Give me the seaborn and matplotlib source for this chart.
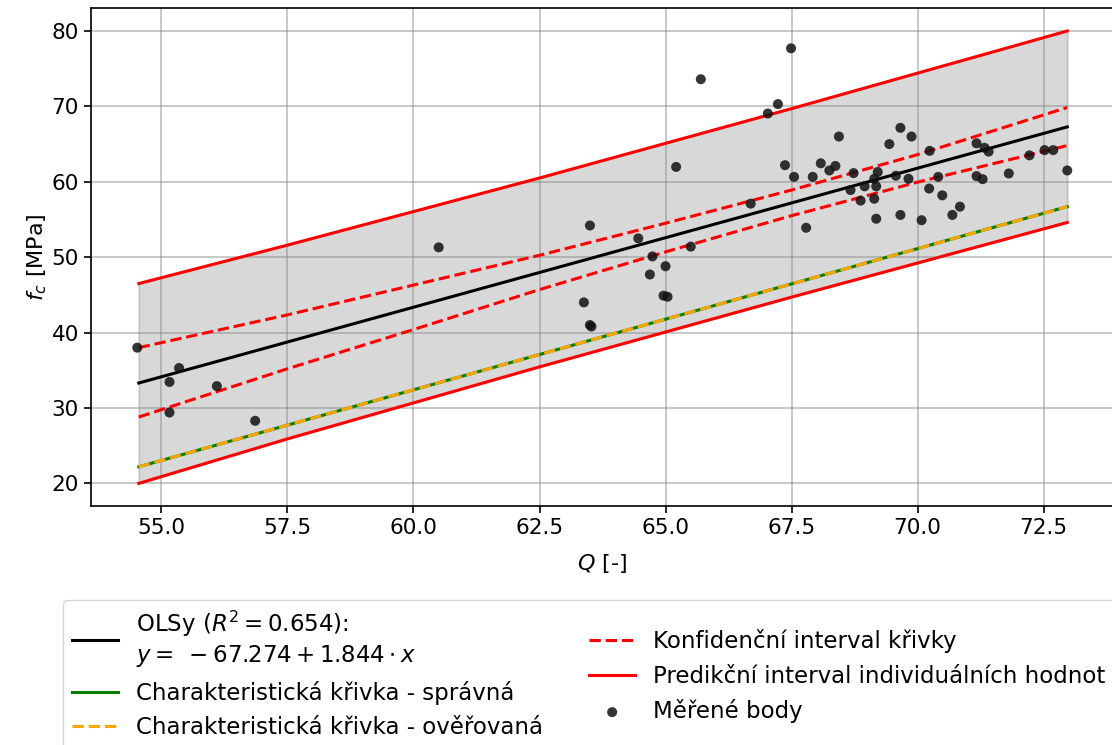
import numpy as np
import pandas as pd
import matplotlib
matplotlib.use("Agg")
import matplotlib.pyplot as plt
import seaborn as sns

# measured points (Q, fc)
q_meas = [54.52, 55.35, 55.16, 56.10, 55.16, 56.86, 60.50,
          65.70, 67.49, 67.23, 67.03, 65.21, 67.37, 67.55, 67.92, 63.50,
          66.69, 67.79, 64.46, 65.50, 64.74, 65.00, 64.69, 64.96, 65.04,
          63.38, 63.50, 63.53,
          68.08, 68.44, 68.25, 68.37, 68.73, 68.67, 68.87, 68.95, 69.14,
          69.18, 69.18, 69.21, 69.14, 69.44, 69.66, 69.88, 69.57, 69.66,
          69.82, 70.08, 70.24, 70.23, 70.41, 70.49, 70.69, 70.84, 71.17,
          71.33, 71.41, 71.17, 71.29, 71.81, 72.22, 72.52, 72.69, 72.97]
fc_meas = [38.0, 35.3, 33.45, 32.9, 29.4, 28.3, 51.3,
           73.6, 77.7, 70.3, 69.05, 61.97, 62.2, 60.65, 60.65, 54.2,
           57.1, 53.9, 52.5, 51.4, 50.1, 48.8, 47.7, 44.9, 44.75,
           44.0, 41.0, 40.8,
           62.45, 66.0, 61.5, 62.1, 61.15, 58.9, 57.5, 59.4, 57.75,
           55.1, 59.4, 61.3, 60.4, 65.0, 67.15, 66.0, 60.8, 55.6,
           60.4, 54.9, 64.1, 59.1, 60.65, 58.2, 55.6, 56.7, 65.1,
           64.5, 64.0, 60.75, 60.35, 61.1, 63.5, 64.2, 64.2, 61.5]

# regression line ends
ols_q = [54.55, 72.97]
ols_fc = [33.31, 67.28]

# confidence band of the curve
conf_q = [54.55, 57.5, 60.0, 62.5, 65.0, 67.5, 70.0, 72.97]
conf_up = [38.0, 42.35, 46.3, 50.25, 54.5, 58.9, 63.6, 69.85]
conf_lo = [28.8, 35.2, 40.4, 45.7, 50.7, 55.5, 59.95, 64.8]

# prediction band
pred_q = [54.55, 57.5, 62.5, 67.5, 72.97]
pred_up = [46.5, 51.6, 60.5, 69.7, 80.0]
pred_lo = [20.0, 25.9, 35.45, 44.7, 54.6]

# characteristic curves
char_q = [54.55, 72.97]
char_fc = [22.2, 56.7]

plt.rcParams['font.size'] = 15.5
plt.rcParams['font.family'] = ['DejaVu Sans']

fig = plt.figure(figsize=(11.12, 7.45), dpi=100)
ax = fig.add_axes([0.0816, 0.3208, 0.92, 0.668])

ax.fill_between(pred_q, pred_lo, pred_up, color='gray', alpha=0.3, lw=1.5)

lw = 2.2
sns.lineplot(x=ols_q, y=ols_fc, ax=ax, color='black', lw=lw,
             label="OLSy ($R^2 = 0.654$):\n$y =\\;-67.274 + 1.844 \\cdot x$")
sns.lineplot(x=char_q, y=char_fc, ax=ax, color='green', lw=lw,
             label="Charakteristická křivka - správná")
sns.lineplot(x=char_q, y=char_fc, ax=ax, color='orange', lw=lw, linestyle='--',
             label="Charakteristická křivka - ověřovaná")
sns.lineplot(x=conf_q, y=conf_up, ax=ax, color='red', lw=lw, linestyle='--',
             label="Konfidenční interval křivky")
sns.lineplot(x=conf_q, y=conf_lo, ax=ax, color='red', lw=lw, linestyle='--')
sns.lineplot(x=pred_q, y=pred_up, ax=ax, color='red', lw=lw,
             label="Predikční interval individuálních hodnot")
sns.lineplot(x=pred_q, y=pred_lo, ax=ax, color='red', lw=lw)
sns.scatterplot(x=q_meas, y=fc_meas, ax=ax, color='#111111', s=52, alpha=0.85,
                edgecolor='none', label="Měřené body", zorder=5)

ax.grid(True, color='gray', alpha=0.5, lw=1.2)
ax.set_xlabel("$Q$ [-]", fontsize=16, labelpad=10)
ax.set_ylabel("$f_c$ [MPa]", fontsize=16, labelpad=2)
for s in ax.spines.values():
    s.set_linewidth(1.2)
ax.tick_params(width=1.2, length=5)

ax.legend(loc='upper center', bbox_to_anchor=(0.487, -0.166), ncol=2,
          fontsize=16.5, handlelength=2.0, columnspacing=2.0)

fig.savefig("out.png", dpi=100)
